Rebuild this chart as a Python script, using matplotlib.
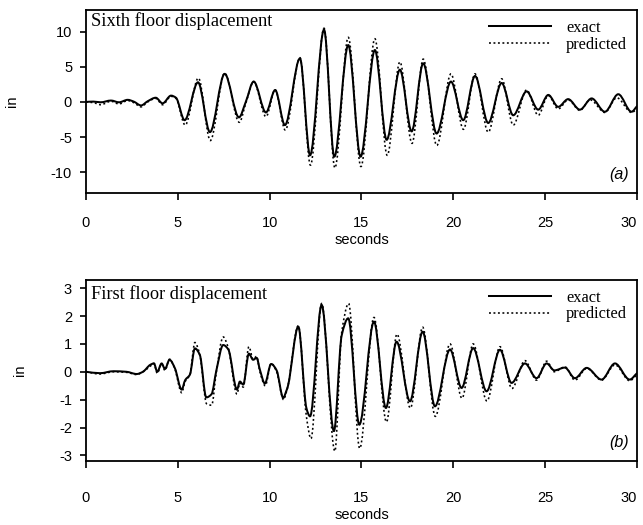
import matplotlib
matplotlib.use("Agg")
import matplotlib.pyplot as plt
from matplotlib.path import Path
from matplotlib.patches import PathPatch
from matplotlib.lines import Line2D

# Sixth floor response: (time in s, displacement in in) at peaks, troughs and kinks
sixth_t_exact = [0.0, 0.4, 0.8, 1.36, 1.8, 2.27, 2.6, 3.0, 3.36, 3.8, 4.17, 4.63, 4.9,
                 5.37, 6.1, 6.75, 7.55, 8.33, 8.7, 9.13, 9.8, 10.3, 10.83, 11.65, 12.2,
                 12.96, 13.52, 14.28, 14.95, 15.73, 16.37, 17.09, 17.73, 18.36, 19.09,
                 19.87, 20.54, 21.18, 21.9, 22.63, 23.26, 23.99, 24.62, 25.17, 25.71,
                 26.25, 26.89, 27.53, 28.25, 28.98, 29.7, 30.0]
sixth_exact = [0.0, 0.05, -0.05, 0.2, -0.05, 0.3, 0.05, -0.5, 0.1, 0.6, -0.2, 0.9, 0.6,
               -2.6, 2.8, -4.3, 4.0, -2.2, 0.0, 2.9, -1.5, 1.7, -3.3, 6.2, -7.6,
               10.3, -7.8, 8.1, -7.8, 7.4, -5.4, 4.6, -4.2, 5.5, -4.5,
               2.9, -2.6, 3.7, -3.0, 2.7, -1.9, 1.5, -1.1, 1.0, -0.7,
               0.4, -1.1, 0.5, -1.4, 1.1, -1.4, -0.6]

sixth_t_pred = [0.0, 0.4, 0.8, 1.36, 1.8, 2.27, 2.6, 3.0, 3.36, 3.8, 4.17, 4.63, 4.9,
                5.4, 6.12, 6.77, 7.55, 8.35, 8.7, 9.13, 9.8, 10.3, 10.85, 11.65, 12.22,
                12.96, 13.55, 14.28, 14.97, 15.73, 16.4, 17.09, 17.75, 18.36, 19.1,
                19.87, 20.55, 21.18, 21.9, 22.63, 23.26, 23.99, 24.62, 25.17, 25.71,
                26.25, 26.89, 27.45, 28.25, 28.9, 29.7, 30.0]
sixth_pred = [0.0, -0.1, -0.4, 0.1, -0.3, 0.2, -0.1, -0.7, 0.0, 0.5, -0.4, 0.8, 0.5,
              -3.3, 3.4, -5.5, 4.1, -2.9, -0.2, 2.9, -2.1, 1.7, -4.0, 6.3, -9.0,
              10.5, -9.4, 9.2, -9.2, 9.0, -7.6, 5.7, -5.9, 6.1, -6.2,
              4.0, -3.9, 4.0, -4.3, 3.3, -3.3, 1.7, -1.9, 0.9, -1.0,
              0.3, -1.2, 0.3, -1.5, 0.6, -1.5, -1.0]

# First floor response
first_t_exact = [0.0, 0.76, 1.5, 2.2, 2.76, 3.1, 3.5, 3.7, 3.88, 4.12, 4.3, 4.55, 4.84,
                 5.21, 5.4, 5.66, 5.93, 6.2, 6.55, 6.84, 7.1, 7.47, 7.75, 8.22, 8.38,
                 8.56, 8.87, 9.1, 9.29, 9.47, 9.74, 10.08, 10.38, 10.74, 10.9, 11.0,
                 11.56, 12.0, 12.2, 12.83, 13.5, 13.92, 14.28, 14.88, 15.68, 16.33,
                 16.91, 17.64, 18.33, 19.0, 19.82, 20.45, 21.08, 21.81, 22.54, 23.17,
                 23.9, 24.53, 25.08, 25.5, 26.07, 26.62, 27.26, 28.07, 28.8, 29.6, 30.0]
first_exact = [0.0, -0.05, 0.02, 0.0, -0.08, 0.0, 0.25, 0.3, 0.0, 0.3, 0.1, 0.43, 0.13,
               -0.64, -0.3, -0.1, 0.84, 0.6, -0.92, -0.8, 0.05, 0.96, 0.8, -0.64, -0.35,
               -0.46, 0.65, 0.43, 0.5, 0.07, -0.42, 0.28, 0.05, -0.94, -0.7, -0.5,
               1.62, -1.3, -1.6, 2.4, -2.13, 1.3, 1.92, -1.9, 1.8, -1.3,
               1.08, -1.06, 1.44, -1.24, 0.8, -0.58, 0.85, -0.7, 0.79, -0.4,
               0.3, -0.23, 0.3, 0.05, 0.15, -0.23, 0.14, -0.28, 0.3, -0.28, -0.05]

first_t_pred = [0.0, 0.76, 1.5, 2.2, 2.76, 3.1, 3.5, 3.7, 3.88, 4.12, 4.3, 4.55, 4.84,
                5.21, 5.4, 5.66, 5.93, 6.2, 6.57, 6.84, 7.1, 7.47, 7.75, 8.22, 8.38,
                8.56, 8.87, 9.1, 9.29, 9.47, 9.76, 10.08, 10.38, 10.76, 10.9, 11.0,
                11.56, 12.0, 12.25, 12.83, 13.55, 13.92, 14.3, 14.9, 15.68, 16.36,
                16.93, 17.66, 18.33, 19.02, 19.82, 20.47, 21.08, 21.83, 22.54, 23.19,
                23.9, 24.53, 25.08, 25.5, 26.07, 26.62, 27.26, 28.07, 28.8, 29.6, 30.0]
first_pred = [0.0, -0.08, 0.0, -0.02, -0.1, 0.0, 0.2, 0.3, -0.05, 0.28, 0.05, 0.45, 0.1,
              -0.75, -0.35, -0.1, 1.05, 0.6, -1.15, -1.2, 0.0, 1.25, 0.85, -0.8, -0.4,
              -0.55, 0.9, 0.45, 0.55, 0.0, -0.5, 0.3, 0.0, -1.0, -0.75, -0.5,
              1.65, -1.6, -2.4, 2.45, -2.85, 1.4, 2.45, -2.75, 1.95, -1.8,
              1.35, -1.3, 1.6, -1.6, 1.0, -0.95, 1.0, -1.05, 0.9, -0.6,
              0.4, -0.3, 0.38, 0.0, 0.18, -0.3, 0.12, -0.3, 0.25, -0.32, -0.1]

sixth_yticks = [-10, -5, 0, 5, 10]
first_yticks = [-3, -2, -1, 0, 1, 2, 3]
xticks = [0, 5, 10, 15, 20, 25, 30]

SANS = "Liberation Sans"
SERIF = "Liberation Serif"
EXACT_STYLE = dict(color="black", lw=1.45, ls="-")
PRED_STYLE = dict(color="black", lw=1.15, ls=(0, (1.2, 1.6)))


def smooth_path(t, y):
    """Cubic Bezier path through the knots, flat at the peaks and troughs."""
    n = len(t)
    d = [(y[i + 1] - y[i]) / (t[i + 1] - t[i]) for i in range(n - 1)]
    m = [d[0]] + [0.0] * (n - 2) + [d[-1]]
    for i in range(1, n - 1):
        if d[i - 1] * d[i] > 0:
            m[i] = 2.0 / (1.0 / d[i - 1] + 1.0 / d[i])
    verts = [(t[0], y[0])]
    codes = [Path.MOVETO]
    for i in range(n - 1):
        h = t[i + 1] - t[i]
        verts += [(t[i] + h / 3, y[i] + m[i] * h / 3),
                  (t[i + 1] - h / 3, y[i + 1] - m[i + 1] * h / 3),
                  (t[i + 1], y[i + 1])]
        codes += [Path.CURVE4] * 3
    return Path(verts, codes)


fig = plt.figure(figsize=(6.43, 5.25), dpi=100)
ax_top = fig.add_axes([0.1337, 0.632, 0.857, 0.349])
ax_bot = fig.add_axes([0.1337, 0.122, 0.857, 0.345])

panels = [
    (ax_top, sixth_t_exact, sixth_exact, sixth_t_pred, sixth_pred,
     sixth_yticks, (-13.0, 13.1), "Sixth floor displacement", "(a)", 11.5, 0.99),
    (ax_bot, first_t_exact, first_exact, first_t_pred, first_pred,
     first_yticks, (-3.2, 3.3), "First floor displacement", "(b)", 16.5, 0.97),
]

for ax, te, ye, tp, yp, yt, ylim, title, tag, xpad, title_y in panels:
    ax.add_patch(PathPatch(smooth_path(te, ye), fill=False, capstyle="round",
                           joinstyle="round", **EXACT_STYLE))
    ax.add_patch(PathPatch(smooth_path(tp, yp), fill=False, **PRED_STYLE))
    ax.set_xlim(0, 30)
    ax.set_ylim(*ylim)
    ax.set_xticks(xticks)
    ax.set_yticks(yt)
    ax.set_yticklabels([str(v) for v in yt], family=SANS, fontsize=10.5)
    labels = ax.set_xticklabels([str(v) for v in xticks], family=SANS, fontsize=10.5)
    labels[-1].set_horizontalalignment("right")
    ax.tick_params(axis="x", direction="out", length=5, width=1.2, pad=xpad)
    ax.tick_params(axis="y", direction="out", length=4, width=1.2, pad=6)
    for sp in ax.spines.values():
        sp.set_linewidth(1.3)
    ax.set_xlabel("seconds", family=SANS, fontsize=10.5, labelpad=2)
    ax.set_ylabel("in", family=SANS, fontsize=10.5, labelpad=23)
    ax.text(0.01, title_y, title, transform=ax.transAxes, family=SERIF,
            fontsize=13.2, ha="left", va="top")
    ax.text(0.985, 0.06, tag, transform=ax.transAxes, family=SANS,
            style="italic", fontsize=11.5, ha="right", va="bottom")
    handles = [Line2D([], [], **EXACT_STYLE), Line2D([], [], **PRED_STYLE)]
    ax.legend(handles, ["exact", "predicted"], loc="upper right", frameon=False,
              handlelength=3.8, prop={"family": SERIF, "size": 11.8},
              borderaxespad=0.2, labelspacing=0.05, handletextpad=0.9)

fig.savefig("out.png", dpi=100)
